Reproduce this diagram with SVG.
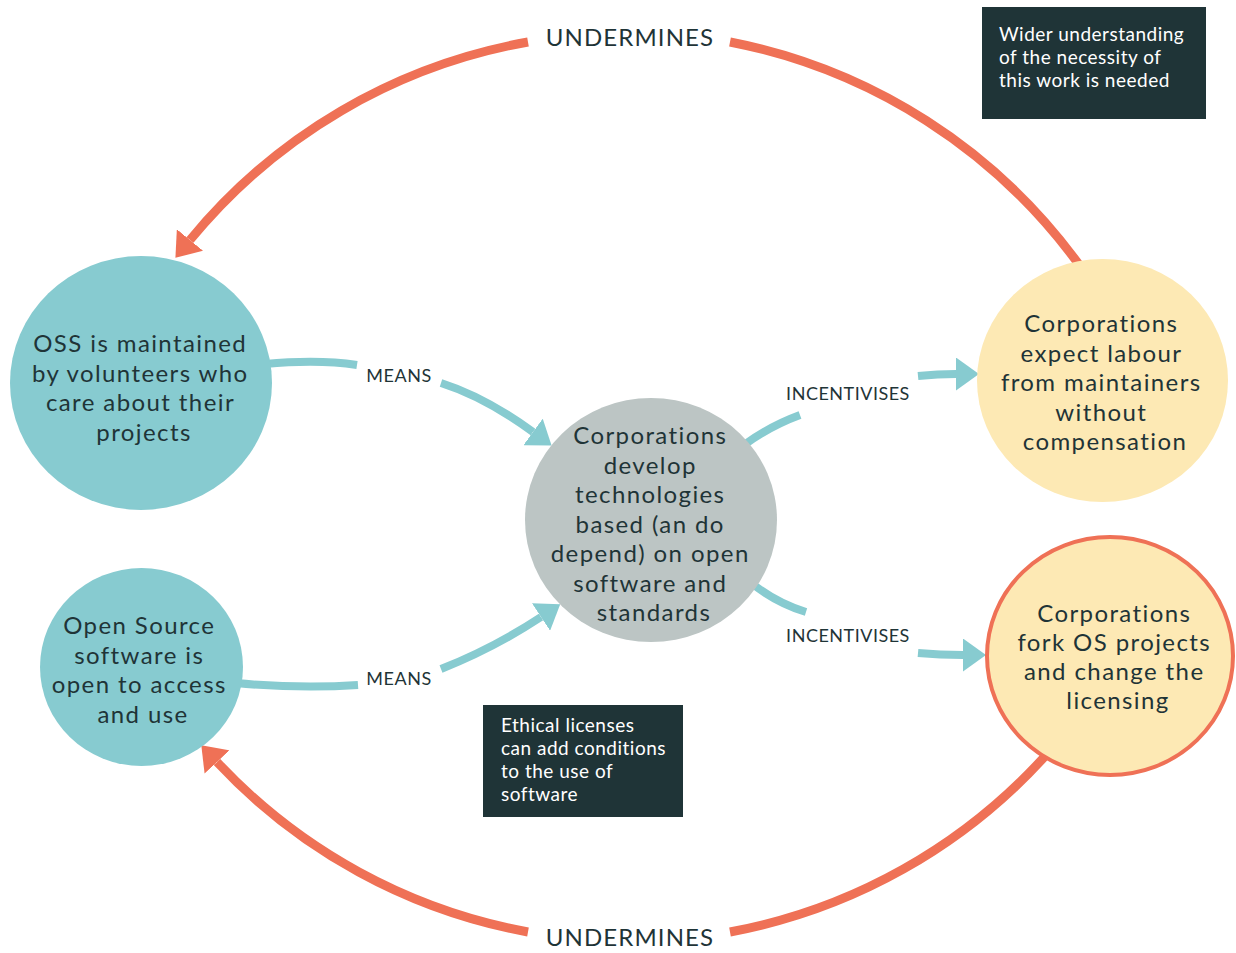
<svg xmlns="http://www.w3.org/2000/svg" width="1236" height="953" viewBox="0 0 1236 953">
  <style>
    .node-text { font-family: Lato, "Noto Sans", sans-serif; font-size: 24px; fill: #1f3437; text-anchor: middle; letter-spacing: 1.4px; }
    .label { font-family: Lato, "Noto Sans", sans-serif; fill: #1f3437; text-anchor: middle; }
    .label-sm { font-size: 18px; letter-spacing: 0.5px; }
    .label-lg { font-size: 24px; letter-spacing: 1.1px; }
    .note-text { font-family: Lato, "Noto Sans", sans-serif; font-size: 19px; fill: #ffffff; letter-spacing: 0.5px; }
    .teal { fill: #87cbd0; }
    .grey { fill: #bcc5c4; }
    .yellow { fill: #fde9b4; }
    .note { fill: #1f3437; }
    .orange-line { fill: none; stroke: #ef7156; stroke-width: 9; }
    .teal-line { fill: none; stroke: #87cbd0; stroke-width: 8; }
  </style>
  <defs>
    <marker id="orange-head" markerUnits="userSpaceOnUse" markerWidth="23" markerHeight="34" viewBox="0 0 23 34" refX="0" refY="17" orient="auto">
      <path d="M0,0 L23,17 L0,34 z" fill="#ef7156"/>
    </marker>
    <marker id="teal-head" markerUnits="userSpaceOnUse" markerWidth="23" markerHeight="33" viewBox="0 0 23 33" refX="0" refY="16.5" orient="auto">
      <path d="M0,0 L23,16.5 L0,33 z" fill="#87cbd0"/>
    </marker>
  </defs>

  <rect width="1236" height="953" fill="#ffffff"/>

  <g id="connectors">
    <!-- top UNDERMINES arc -->
    <path class="orange-line" d="M1080,266 A565,565 0 0,0 730,42"/>
    <path class="orange-line" d="M528,42 A565,565 0 0,0 190,240" marker-end="url(#orange-head)"/>
    <!-- bottom UNDERMINES arc -->
    <path class="orange-line" d="M1047,754 A565,565 0 0,1 730,932"/>
    <path class="orange-line" d="M528,932 A565,565 0 0,1 217,762" marker-end="url(#orange-head)"/>
    <!-- MEANS top -->
    <path class="teal-line" d="M265,364 Q318,359 357,365"/>
    <path class="teal-line" d="M441,383 Q485,397 533,432" marker-end="url(#teal-head)"/>
    <!-- MEANS bottom -->
    <path class="teal-line" d="M236,683 Q300,689 358,685"/>
    <path class="teal-line" d="M441,669 Q494,648 541,617" marker-end="url(#teal-head)"/>
    <!-- INCENTIVISES top -->
    <path class="teal-line" d="M744,445 Q770,426 800,415"/>
    <path class="teal-line" d="M918,376 Q938,374 956,374" marker-end="url(#teal-head)"/>
    <!-- INCENTIVISES bottom -->
    <path class="teal-line" d="M750,582 Q776,603 806,612"/>
    <path class="teal-line" d="M918,653 Q940,655 963,655" marker-end="url(#teal-head)"/>

    <text class="label label-lg" x="630" y="46">UNDERMINES</text>
    <text class="label label-lg" x="630" y="946">UNDERMINES</text>
    <text class="label label-sm" x="399" y="382">MEANS</text>
    <text class="label label-sm" x="399" y="685">MEANS</text>
    <text class="label label-sm" x="848" y="400">INCENTIVISES</text>
    <text class="label label-sm" x="848" y="642">INCENTIVISES</text>
  </g>

  <g id="node-oss-volunteers">
    <ellipse class="teal" cx="141" cy="383" rx="131" ry="127"/>
    <text class="node-text">
      <tspan x="144" y="352">OSS is maintained</tspan>
      <tspan x="144" y="381.5">by volunteers who</tspan>
      <tspan x="144" y="411">care about their</tspan>
      <tspan x="144" y="440.5">projects</tspan>
    </text>
  </g>

  <g id="node-open-source">
    <ellipse class="teal" cx="141.5" cy="667" rx="101.5" ry="99"/>
    <text class="node-text">
      <tspan x="143" y="634">Open Source</tspan>
      <tspan x="143" y="663.5">software is</tspan>
      <tspan x="143" y="693">open to access</tspan>
      <tspan x="143" y="722.5">and use</tspan>
    </text>
  </g>

  <g id="node-corporations-develop">
    <ellipse class="grey" cx="651" cy="520" rx="126" ry="122"/>
    <text class="node-text">
      <tspan x="654" y="444">Corporations</tspan>
      <tspan x="654" y="473.5">develop</tspan>
      <tspan x="654" y="503">technologies</tspan>
      <tspan x="654" y="532.5">based (an do</tspan>
      <tspan x="654" y="562">depend) on open</tspan>
      <tspan x="654" y="591.5">software and</tspan>
      <tspan x="654" y="621">standards</tspan>
    </text>
  </g>

  <g id="node-expect-labour">
    <ellipse class="yellow" cx="1102.5" cy="380.5" rx="125.5" ry="121.5"/>
    <text class="node-text">
      <tspan x="1105" y="332">Corporations</tspan>
      <tspan x="1105" y="361.5">expect labour</tspan>
      <tspan x="1105" y="391">from maintainers</tspan>
      <tspan x="1105" y="420.5">without</tspan>
      <tspan x="1105" y="450">compensation</tspan>
    </text>
  </g>

  <g id="node-fork-projects">
    <ellipse class="yellow" cx="1110" cy="656" rx="123" ry="119" stroke="#ef7156" stroke-width="4"/>
    <text class="node-text">
      <tspan x="1118" y="622">Corporations</tspan>
      <tspan x="1118" y="651">fork OS projects</tspan>
      <tspan x="1118" y="680">and change the</tspan>
      <tspan x="1118" y="709">licensing</tspan>
    </text>
  </g>

  <g id="note-wider-understanding">
    <rect class="note" x="982" y="7" width="224" height="112"/>
    <text class="note-text">
      <tspan x="999" y="41">Wider understanding</tspan>
      <tspan x="999" y="64">of the necessity of</tspan>
      <tspan x="999" y="87">this work is needed</tspan>
    </text>
  </g>

  <g id="note-ethical-licenses">
    <rect class="note" x="483" y="705" width="200" height="112"/>
    <text class="note-text">
      <tspan x="501" y="732">Ethical licenses</tspan>
      <tspan x="501" y="755">can add conditions</tspan>
      <tspan x="501" y="778">to the use of</tspan>
      <tspan x="501" y="801">software</tspan>
    </text>
  </g>
</svg>
